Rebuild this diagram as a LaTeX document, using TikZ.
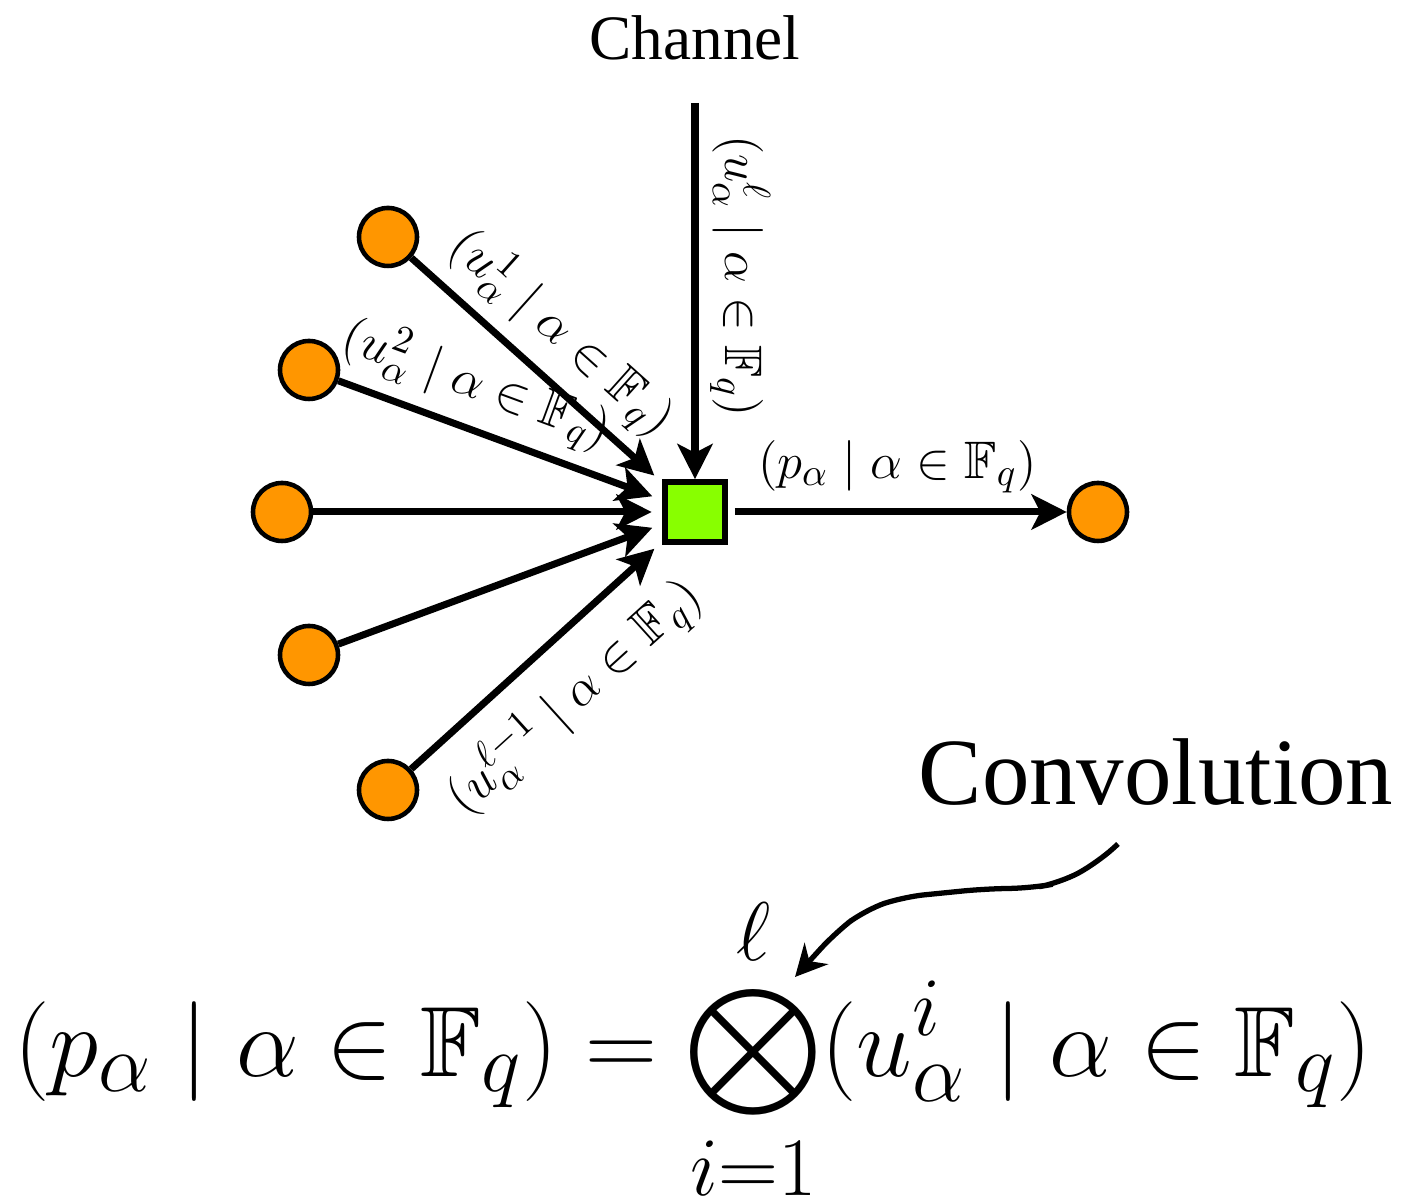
\documentclass[tikz,border=0pt]{standalone}
\usepackage{amsmath}
\usepackage{amssymb}
\usepackage{graphicx}
\usepackage{fontspec}
\newfontfamily\timesfont{Liberation Serif}
\usetikzlibrary{arrows.meta}
\definecolor{dotorange}{RGB}{255,150,0}
\definecolor{boxgreen}{RGB}{136,255,0}

\begin{document}
\begin{tikzpicture}[
    dot/.style={circle,draw,line width=1.3pt,fill=dotorange,minimum size=0.58cm,inner sep=0pt},
    fbox/.style={rectangle,draw,line width=1.6pt,fill=boxgreen,minimum size=0.6cm,inner sep=0pt},
    arr/.style={line width=2pt,-{Stealth[length=10pt,width=10pt,inset=2.5pt]}},
    lab/.style={font=\fontsize{15}{17}\selectfont}]
        \useasboundingbox (0,0) rectangle (14.05,11.96);
        \node[fbox] (sq) at (6.95,6.84) {};
        \node[dot] (out) at (10.98,6.84) {};
        \node[dot] (c1) at (3.88,9.59) {};
        \node[dot] (c2) at (3.09,8.26) {};
        \node[dot] (c3) at (2.82,6.84) {};
        \node[dot] (c4) at (3.09,5.41) {};
        \node[dot] (c5) at (3.88,4.06) {};
        \node[font=\timesfont\fontsize{18}{20}\selectfont] (chan) at (6.95,11.58) {Channel};
        \coordinate (chtop) at (6.95,10.93);
        % incoming messages
        \draw[arr,shorten >=3pt] (c1) -- (sq) node[lab,pos=0.48,sloped,above] {$(u_\alpha^1 \mid \alpha \in \mathbb{F}_q)$};
        \draw[arr,shorten >=3pt] (c2) -- (sq) node[lab,pos=0.38,sloped,above] {$(u_\alpha^2 \mid \alpha \in \mathbb{F}_q)$};
        \draw[arr,shorten >=3pt] (c3) -- (sq);
        \draw[arr,shorten >=3pt] (c4) -- (sq);
        \draw[arr,shorten >=3pt] (c5) -- (sq) node[lab,pos=0.5,sloped,below=3pt] {$(u_\alpha^{\ell-1} \mid \alpha \in \mathbb{F}_q)$};
        \draw[arr] (chtop) -- (sq) node[lab,pos=0.46,sloped,above] {$(u_\alpha^{\ell} \mid \alpha \in \mathbb{F}_q)$};
        \draw[arr,shorten <=2pt] (sq) -- (out) node[lab,midway,above=1pt] {$(p_\alpha \mid \alpha \in \mathbb{F}_q)$};
        % convolution
        \node[font=\timesfont\fontsize{27}{30}\selectfont] (conv) at (11.56,4.24) {Convolution};
        \node[anchor=base] (eq) at (6.93,1.19) {\scalebox{1.141}{\Huge $\displaystyle (p_\alpha \mid \alpha \in \mathbb{F}_q) = \mathop{\vcenter{\hbox{\scalebox{0.9}{$\displaystyle\bigotimes$}}}}\limits_{i=1}^{\ell} (u_\alpha^i \mid \alpha \in \mathbb{F}_q)$}};
        \coordinate (convtail) at (11.18,3.52);
        \coordinate (convtip) at (7.95,2.19);
        \draw[line width=1.5pt,rounded corners=6pt,-{Stealth[length=9pt,width=9pt]}] (convtail) -- (10.97,3.33) -- (10.60,3.13) -- (10.32,3.08) -- (9.83,3.07) -- (9.03,2.99) -- (8.65,2.86) -- (8.35,2.63) -- (convtip);
\end{tikzpicture}
\end{document}
